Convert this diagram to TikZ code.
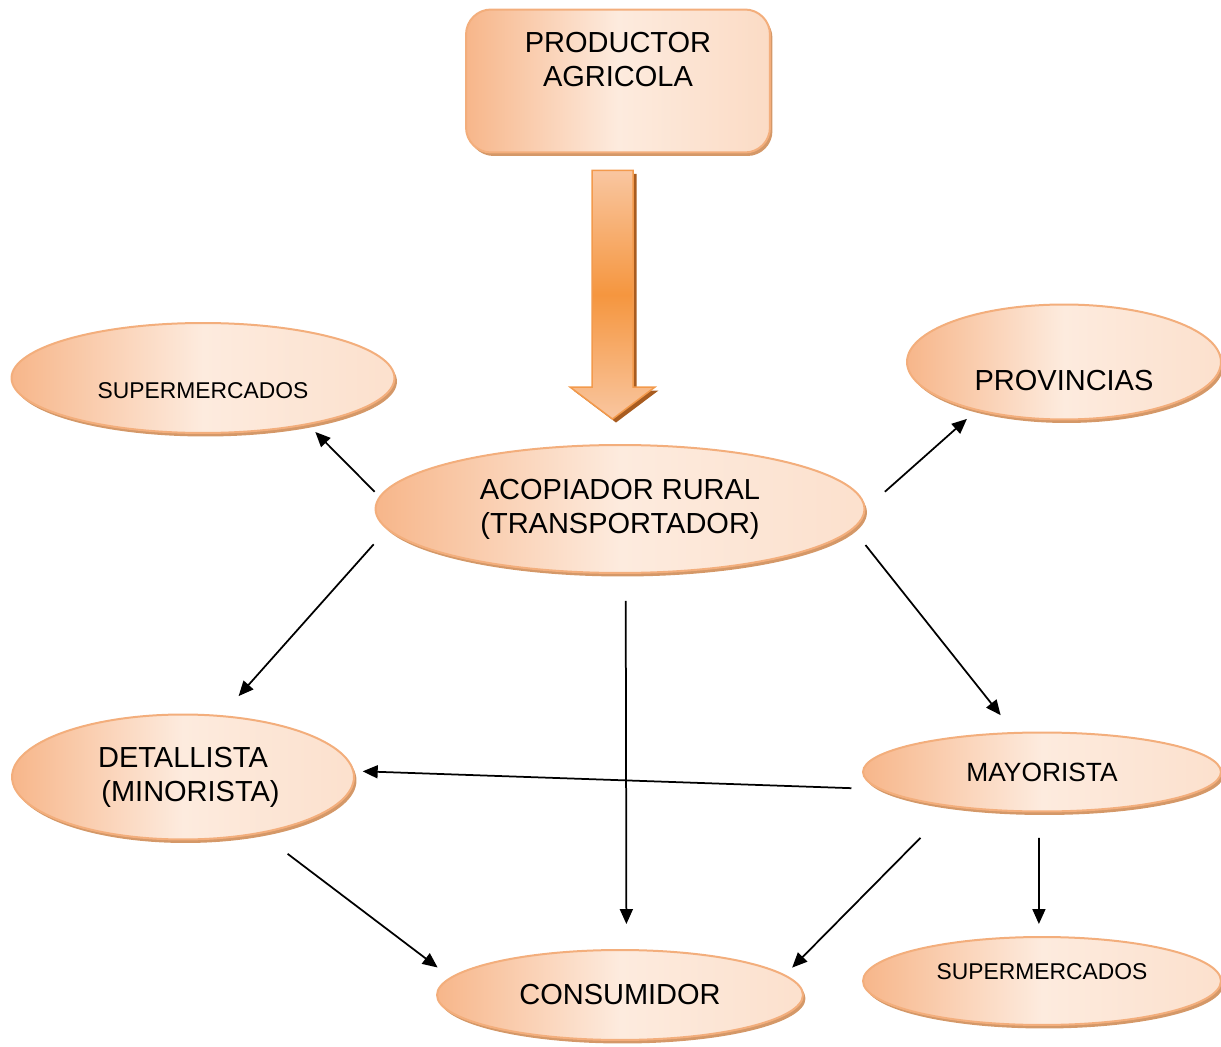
\documentclass[tikz,border=0pt]{standalone}
\usepackage{fontspec}
\setmainfont{Liberation Sans}
\usetikzlibrary{shapes.geometric}
\usetikzlibrary{arrows.meta}
\usetikzlibrary{shadows}
\usetikzlibrary{calc}

\definecolor{naranja}{HTML}{F7B68A}
\definecolor{crema}{HTML}{FDEBDE}
\definecolor{borde}{HTML}{F3AE7C}
\definecolor{sombra}{HTML}{D49868}
\definecolor{clara}{HTML}{F9C6A0}
\definecolor{oscura}{HTML}{F5963F}
\definecolor{bordeflecha}{HTML}{F39A4C}
\definecolor{sombraflecha}{HTML}{A85C20}

\tikzset{
  caja/.style={rectangle, rounded corners=0.5cm, draw=borde, line width=0.04cm,
    shading=axis, left color=naranja, right color=crema!70!naranja, middle color=crema,
    drop shadow={shadow xshift=0.05cm, shadow yshift=-0.07cm, fill=sombra, opacity=1},
    font=\fontsize{16.5}{19.3}\selectfont, align=center},
  elipse/.style={ellipse, draw=borde, line width=0.04cm, inner sep=0pt,
    shading=axis, left color=naranja, right color=crema!80!naranja, middle color=crema,
    drop shadow={shadow xshift=0.05cm, shadow yshift=-0.07cm, fill=sombra, opacity=1},
    font=\fontsize{16.5}{19.3}\selectfont, align=center},
  chica/.style={font=\fontsize{13}{15}\selectfont},
  flecha/.style={-{Triangle[length=0.3cm,width=0.26cm]}, line width=0.035cm},
  flechagorda/.style={draw=bordeflecha, line width=0.03cm,
    shading=axis, top color=clara, bottom color=clara, middle color=oscura,
    drop shadow={shadow xshift=0.07cm, shadow yshift=-0.07cm, fill=sombraflecha, opacity=1}}
}

\begin{document}
\begin{tikzpicture}[x=0.02cm, y=-0.02cm]
  \useasboundingbox (0,0) rectangle (1221,1047);

  \node[caja, minimum width=6.08cm, minimum height=2.86cm] (prod) at (618,81)
    {PRODUCTOR\\AGRICOLA\\[0.2cm]\mbox{}};

  \node[elipse, chica, minimum width=7.66cm, minimum height=2.2cm, text height=0.84cm] (super1) at (203,378) {SUPERMERCADOS};
  \node[elipse, minimum width=6.28cm, minimum height=2.3cm, text height=1.14cm] (prov) at (1064,362) {PROVINCIAS};
  \node[elipse, minimum width=9.78cm, minimum height=2.56cm] (acop) at (620,509) {ACOPIADOR RURAL\\(TRANSPORTADOR)};
  \node[elipse, minimum width=6.84cm, minimum height=2.5cm] (det) at (183,777) {DETALLISTA\\\hspace*{0.3cm}(MINORISTA)};
  \node[elipse, minimum width=7.16cm, minimum height=1.58cm, font=\fontsize{15}{18}\selectfont] (may) at (1042,772) {MAYORISTA};
  \node[elipse, minimum width=7.32cm, minimum height=1.8cm] (cons) at (620,995) {CONSUMIDOR};
  \node[elipse, chica, minimum width=7.16cm, minimum height=1.76cm, text depth=0.36cm] (super2) at (1042,981) {SUPERMERCADOS};

  \coordinate (fs) at ($(prod.south)+(-5.5,17)$);
  \coordinate (fe) at ($(acop.north)+(-7.5,-25)$);
  \path[flechagorda] ($(fs)+(-20.5,0)$) -- ($(fs)+(20.5,0)$) -- ($(fe)+(20.5,-32)$) -- ($(fe)+(42.5,-32)$)
    -- (fe) -- ($(fe)+(-42.5,-32)$) -- ($(fe)+(-20.5,-32)$) -- cycle;

  \draw[flecha, shorten <=0.13cm, shorten >=0.2cm] (acop.177) -- (super1.-24);
  \draw[flecha, shorten <=0.52cm, shorten >=0.25cm] (acop.0) -- (prov.209);
  \draw[flecha, shorten <=0.4cm, shorten >=0.51cm] (acop.185) -- (det.58);
  \draw[flecha, shorten <=0.54cm, shorten >=0.5cm] (acop.-85) -- (cons.82);
  \draw[flecha, shorten <=0.4cm, shorten >=0.43cm] (acop.-5) -- (may.125);
  \draw[flecha, shorten <=0.55cm, shorten >=0.17cm] (may.186) -- (det.2);
  \draw[flecha, shorten <=0.67cm, shorten >=0.32cm] (det.-36) -- (cons.174);
  \draw[flecha, shorten <=0.87cm, shorten >=0.2cm] (may.201) -- (cons.7);
  \draw[flecha, shorten <=0.51cm, shorten >=0.24cm] (may.-94) -- (super2.94);
\end{tikzpicture}
\end{document}
